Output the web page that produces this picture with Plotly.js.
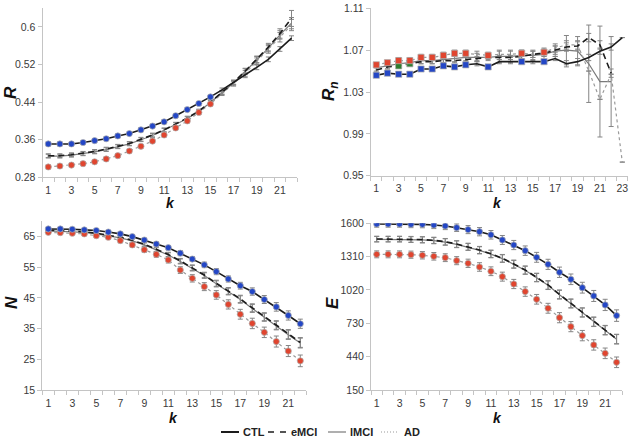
<!DOCTYPE html>
<html><head><meta charset="utf-8">
<script src="https://cdn.plot.ly/plotly-3.0.1.min.js"></script>
<style>html,body{margin:0;padding:0;background:#fff}#chart{width:634px;height:445px}</style>
</head><body><div id="chart"></div>
<script>
// ---------- categories ----------
const K22 = [1,2,3,4,5,6,7,8,9,10,11,12,13,14,15,16,17,18,19,20,21,22];
const K23 = [1,2,3,4,5,6,7,8,9,10,11,12,13,14,15,16,17,18,19,20,21,22,23];
const tickK21 = [1,3,5,7,9,11,13,15,17,19,21];
const tickK23 = [1,3,5,7,9,11,13,15,17,19,21,23];
const seriesNames = ['CTL','eMCI','lMCI','AD'];

// ---------- R ----------
const R_CTL  = [0.351,0.351,0.351,0.354,0.358,0.362,0.368,0.373,0.381,0.389,0.398,0.411,0.424,0.437,0.451,0.466,0.482,0.497,0.514,0.531,0.553,0.576];
const R_eMCI = [0.326,0.326,0.328,0.331,0.335,0.340,0.346,0.352,0.361,0.370,0.381,0.393,0.406,0.421,0.440,0.461,0.482,0.506,0.531,0.557,0.586,0.618];
const R_lMCI = [0.325,0.325,0.327,0.330,0.334,0.339,0.345,0.351,0.360,0.369,0.380,0.392,0.405,0.420,0.439,0.460,0.481,0.505,0.530,0.555,0.583,0.608];
const R_AD   = [0.302,0.304,0.306,0.309,0.313,0.319,0.326,0.336,0.346,0.357,0.370,0.385,0.400,0.418,0.436,0.458,0.479,0.501,0.527,0.552,0.578,0.604];
const R_errCTL  = [0.004,0.004,0.004,0.004,0.004,0.004,0.004,0.004,0.004,0.004,0.004,0.004,0.004,0.004,0.004,0.004,0.004,0.005,0.005,0.005,0.005,0.005];
const R_erreMCI = [0.004,0.004,0.004,0.004,0.004,0.004,0.004,0.004,0.004,0.004,0.004,0.004,0.004,0.004,0.004,0.004,0.005,0.006,0.007,0.008,0.010,0.017];
const R_errlMCI = [0.004,0.004,0.004,0.004,0.004,0.004,0.004,0.004,0.004,0.004,0.004,0.004,0.004,0.004,0.004,0.004,0.005,0.006,0.007,0.008,0.009,0.012];
const R_errAD   = [0.004,0.004,0.004,0.004,0.004,0.004,0.004,0.004,0.004,0.004,0.004,0.004,0.004,0.004,0.004,0.004,0.005,0.006,0.007,0.008,0.010,0.012];
const R_sigCTL = [1,2,3,4,5,6,7,8,9,10,11,12,13,14,15];
const R_sigAD  = [1,2,3,4,5,6,7,8,9,10,11,12,13,14,15];
const R_sigeMCI = [];
const R_ticks = [0.28,0.36,0.44,0.52,0.6];
const R_tickText = ['0.28','0.36','0.44','0.52','0.6'];

// ---------- Rn ----------
const Rn_CTL  = [1.046,1.048,1.047,1.047,1.052,1.052,1.055,1.054,1.056,1.057,1.054,1.059,1.059,1.059,1.059,1.059,1.062,1.057,1.059,1.063,1.069,1.073,1.082];
const Rn_eMCI = [1.051,1.054,1.055,1.057,1.059,1.059,1.060,1.060,1.061,1.062,1.063,1.063,1.063,1.064,1.066,1.067,1.070,1.073,1.074,1.082,1.075,1.048];
const Rn_lMCI = [1.053,1.055,1.057,1.058,1.060,1.060,1.061,1.062,1.063,1.063,1.063,1.064,1.064,1.065,1.065,1.066,1.069,1.070,1.069,1.057,1.040,1.040];
const Rn_AD   = [1.056,1.058,1.060,1.060,1.063,1.063,1.065,1.067,1.067,1.066,1.065,1.066,1.066,1.067,1.066,1.068,1.072,1.075,1.075,1.050,1.023,1.047,0.963];
const Rn_errCTL  = [0.002,0.002,0.002,0.002,0.002,0.002,0.002,0.002,0.002,0.002,0.002,0.002,0.002,0.002,0.002,0.002,0.002,0.003,0.003,0.003,0.003,0.003,0];
const Rn_erreMCI = [0.002,0.002,0.002,0.002,0.002,0.002,0.002,0.002,0.002,0.002,0.002,0.002,0.002,0.002,0.003,0.003,0.004,0.004,0.004,0.004,0.004,0.004];
const Rn_errlMCI = [0.003,0.003,0.003,0.003,0.003,0.003,0.003,0.003,0.003,0.004,0.003,0.006,0.006,0.005,0.005,0.005,0.005,0.014,0.014,0.037,0.053,0.043];
const Rn_errAD   = [0.002,0.002,0.003,0.003,0.003,0.003,0.003,0.003,0.003,0.003,0.003,0.003,0.003,0.003,0.003,0.004,0.004,0.004,0.004,0,0,0,0];
const Rn_sigCTL = [1,2,3,4,5,6,7,8,9,11,14,16];
const Rn_sigAD  = [1,2,3,4,5,6,7,8,9,11,14,16];
const Rn_sigeMCI = [3,4];
const Rn_ticks = [0.95,0.99,1.03,1.07,1.11];
const Rn_tickText = ['0.95','0.99','1.03','1.07','1.11'];

// ---------- N ----------
const N_CTL  = [67.5,67.5,67.4,67.2,67.0,66.5,65.9,65.0,63.9,62.6,61.4,59.6,57.7,55.8,53.6,51.2,49.0,47.1,44.5,42.1,39.3,36.6];
const N_eMCI = [67.1,67.0,66.8,66.6,66.1,65.5,64.8,63.8,62.5,60.9,59.2,57.1,54.9,52.5,49.8,47.3,44.7,41.8,38.9,36.2,33.2,30.5];
const N_lMCI = [66.9,66.8,66.6,66.4,65.9,65.3,64.6,63.6,62.3,60.7,59.0,56.9,54.7,52.3,49.6,47.1,44.5,41.6,38.7,36.0,33.0,30.3];
const N_AD   = [66.4,66.3,66.1,65.9,65.3,64.8,63.7,62.3,60.7,59.2,57.4,54.1,51.4,48.7,46.0,42.9,39.7,36.7,33.8,30.8,27.7,24.5];
const N_errCTL  = [0.4,0.4,0.4,0.4,0.5,0.5,0.5,0.6,0.6,0.7,0.7,0.8,0.8,0.9,1.0,1.0,1.1,1.2,1.3,1.4,1.5,1.5];
const N_erreMCI = [0.4,0.4,0.4,0.4,0.5,0.5,0.5,0.6,0.6,0.7,0.7,0.8,0.9,0.9,1.0,1.1,1.2,1.3,1.3,1.4,1.5,1.6];
const N_errlMCI = [0.4,0.4,0.4,0.4,0.5,0.5,0.5,0.6,0.6,0.7,0.7,0.8,0.9,0.9,1.0,1.1,1.2,1.3,1.3,1.4,1.5,1.6];
const N_errAD   = [0.5,0.5,0.5,0.5,0.6,0.6,0.7,0.7,0.8,0.9,1.0,1.1,1.2,1.3,1.4,1.5,1.6,1.7,1.7,1.8,1.8,1.9];
const N_sigCTL = K22;
const N_sigAD  = K22;
const N_sigeMCI = [4];
const N_ticks = [15,25,35,45,55,65];
const N_tickText = ['15','25','35','45','55','65'];

// ---------- E ----------
const E_CTL  = [1594,1594,1594,1591,1591,1585,1577,1562,1545,1527,1500,1455,1411,1362,1304,1243,1174,1113,1040,968,890,797];
const E_eMCI = [1464,1464,1464,1461,1458,1452,1440,1420,1397,1368,1335,1296,1246,1194,1130,1064,982,904,826,745,672,594];
const E_lMCI = [1461,1461,1461,1458,1455,1449,1437,1417,1394,1365,1332,1293,1243,1191,1127,1061,979,901,823,742,669,591];
const E_AD   = [1330,1330,1330,1327,1322,1313,1301,1275,1252,1220,1183,1136,1072,1006,939,861,779,701,623,542,469,391];
const E_errCTL  = [28,28,28,29,30,31,32,33,35,36,37,39,40,41,43,44,45,46,47,48,49,50];
const E_erreMCI = [24,24,24,25,26,27,28,29,30,31,32,33,34,35,36,37,38,38,39,40,40,41];
const E_errlMCI = [24,24,24,25,26,27,28,29,30,31,32,33,34,35,36,37,38,38,39,40,40,41];
const E_errAD   = [30,30,30,31,32,33,34,35,36,37,38,39,40,41,42,43,44,44,45,45,46,46];
const E_sigCTL = K22;
const E_sigAD  = K22;
const E_sigeMCI = [];
const E_ticks = [150,440,730,1020,1310,1600];
const E_tickText = ['150','440','730','1020','1310','1600'];

// ---------- styles ----------
const lineStyle = {
  CTL:  {color:'#1c1c1c', width:1.6, dash:'solid'},
  eMCI: {color:'#1c1c1c', width:1.6, dash:'6px,4px'},
  lMCI: {color:'#7a7a7a', width:1.2, dash:'solid'},
  AD:   {color:'#9a9a9a', width:1.2, dash:'dot'}
};
const markColor = {CTL:'#2447c6', eMCI:'#2e7d2e', AD:'#e0452f'};
const errColor = '#858585';

function k(n){ return n <= 22 ? K22.slice(0,n) : K23.slice(0,n); }

function panel(xa, ya, data, errs, sig, symbol){
  const tr = [];
  ['lMCI','AD','eMCI','CTL'].forEach(s => {
    const y = data[s];
    tr.push({
      type:'scatter', mode:'lines', x:k(y.length), y:y, xaxis:xa, yaxis:ya,
      name:s, showlegend:false, hoverinfo:'skip',
      line:lineStyle[s],
      error_y:{type:'data', array:errs[s], visible:true, color:errColor, thickness:1, width:2.5}
    });
  });
  ['eMCI','AD','CTL'].forEach(s => {
    const idx = sig[s];
    if (!idx || !idx.length) return;
    tr.push({
      type:'scatter', mode:'markers', x:idx, y:idx.map(i => data[s][i-1]),
      xaxis:xa, yaxis:ya, showlegend:false, hoverinfo:'skip',
      marker:{color:markColor[s], size:6.2, symbol:symbol, line:{width:0.8, color:'rgba(175,175,175,0.9)'}}
    });
  });
  return tr;
}

const traces = [].concat(
  panel('x','y',  {CTL:R_CTL,eMCI:R_eMCI,lMCI:R_lMCI,AD:R_AD},
                  {CTL:R_errCTL,eMCI:R_erreMCI,lMCI:R_errlMCI,AD:R_errAD},
                  {CTL:R_sigCTL,eMCI:R_sigeMCI,AD:R_sigAD}, 'circle'),
  panel('x2','y2',{CTL:Rn_CTL,eMCI:Rn_eMCI,lMCI:Rn_lMCI,AD:Rn_AD},
                  {CTL:Rn_errCTL,eMCI:Rn_erreMCI,lMCI:Rn_errlMCI,AD:Rn_errAD},
                  {CTL:Rn_sigCTL,eMCI:Rn_sigeMCI,AD:Rn_sigAD}, 'square'),
  panel('x3','y3',{CTL:N_CTL,eMCI:N_eMCI,lMCI:N_lMCI,AD:N_AD},
                  {CTL:N_errCTL,eMCI:N_erreMCI,lMCI:N_errlMCI,AD:N_errAD},
                  {CTL:N_sigCTL,eMCI:N_sigeMCI,AD:N_sigAD}, 'circle'),
  panel('x4','y4',{CTL:E_CTL,eMCI:E_eMCI,lMCI:E_lMCI,AD:E_AD},
                  {CTL:E_errCTL,eMCI:E_erreMCI,lMCI:E_errlMCI,AD:E_errAD},
                  {CTL:E_sigCTL,eMCI:E_sigeMCI,AD:E_sigAD}, 'circle')
);

const W = 634, H = 445;
const tickFont = {family:'Liberation Sans, Arial, sans-serif', size:10.5, color:'#3a3a3a'};
function xAxis(x0, x1, range, tv, anchor){
  return {domain:[x0/W, x1/W], anchor:anchor, range:range, tickmode:'array', tickvals:tv,
    ticks:'', showgrid:false, zeroline:false, showline:true, linecolor:'#c4c4c4', linewidth:1,
    tickfont:tickFont, ticklabelstandoff:3,
    minor:{ticks:'outside', tick0:0.5, dtick:1, ticklen:4, tickcolor:'#c4c4c4', tickwidth:1, showgrid:false}};
}
function yAxis(top, bottom, range, tv, tt, anchor){
  return {domain:[1-bottom/H, 1-top/H], anchor:anchor, range:range, tickmode:'array', tickvals:tv, ticktext:tt,
    ticks:'outside', ticklen:4, tickcolor:'#c4c4c4', showgrid:false, zeroline:false,
    showline:true, linecolor:'#c4c4c4', linewidth:1, tickfont:tickFont};
}

const titleFont = {family:'Liberation Sans, Arial, sans-serif', size:17, color:'#111', weight:'bold', style:'italic'};
const kFont = {family:'Liberation Sans, Arial, sans-serif', size:14, color:'#111', weight:'bold', style:'italic'};
const legFont = {family:'Liberation Sans, Arial, sans-serif', size:11, color:'#222', weight:'bold'};
function ann(text, x, y, font, angle, xanchor){
  return {text:text, x:x/W, y:1-y/H, xref:'paper', yref:'paper', showarrow:false, font:font,
    textangle:angle||0, xanchor:xanchor||'center', yanchor:'middle'};
}

// manual legend (symbol line positions in px)
const legY = 432;
const legendItems = [
  {name:seriesNames[0], x0:221, x1:239, tx:241, s:'CTL'},
  {name:seriesNames[1], x0:268, x1:286, tx:289, s:'eMCI'},
  {name:seriesNames[2], x0:328, x1:346, tx:348, s:'lMCI'},
  {name:seriesNames[3], x0:381, x1:399, tx:402, s:'AD'}
];
const legendDash = {CTL:'solid', eMCI:'6px,6px', lMCI:'solid', AD:'1px,2px'};
const shapes = legendItems.map(it => ({type:'line', xref:'paper', yref:'paper',
  x0:it.x0/W, x1:it.x1/W, y0:1-legY/H, y1:1-legY/H,
  line:{color:lineStyle[it.s].color, width:it.s==='CTL'?2:(it.s==='eMCI'?1.6:1.2), dash:legendDash[it.s]}}));
const legendAnn = legendItems.map(it => ann(it.name, it.tx, legY, legFont, 0, 'left'));

const layout = {
  width:W, height:H, margin:{l:0,r:0,t:0,b:0}, paper_bgcolor:'#fff', plot_bgcolor:'#fff',
  xaxis:  xAxis(42.5, 297.3, [0.5,22.5], tickK21, 'y'),
  yaxis:  yAxis(8.1, 177.3, [0.28,0.64], R_ticks, R_tickText, 'x'),
  xaxis2: xAxis(370.7, 627.9, [0.5,23.5], tickK23, 'y2'),
  yaxis2: yAxis(8.3, 175.7, [0.95,1.11], Rn_ticks, Rn_tickText, 'x2'),
  xaxis3: xAxis(42.3, 306.3, [0.5,22.5], tickK21, 'y3'),
  yaxis3: yAxis(221.3, 390, [15,70], N_ticks, N_tickText, 'x3'),
  xaxis4: xAxis(371, 622.3, [0.5,22.5], tickK21, 'y4'),
  yaxis4: yAxis(223.3, 390, [150,1600], E_ticks, E_tickText, 'x4'),
  showlegend:false,
  shapes:shapes,
  annotations:[
    ann('R', 10, 93, titleFont, -90),
    ann('R<sub>n</sub>', 330, 91, titleFont, -90),
    ann('N', 11, 303, titleFont, -90),
    ann('E', 332, 303, titleFont, -90),
    ann('k', 170, 203, kFont),
    ann('k', 497, 203, kFont),
    ann('k', 173, 418, kFont),
    ann('k', 497, 418, kFont)
  ].concat(legendAnn)
};

Plotly.newPlot('chart', traces, layout, {staticPlot:true, displayModeBar:false});
</script>
</body></html>
